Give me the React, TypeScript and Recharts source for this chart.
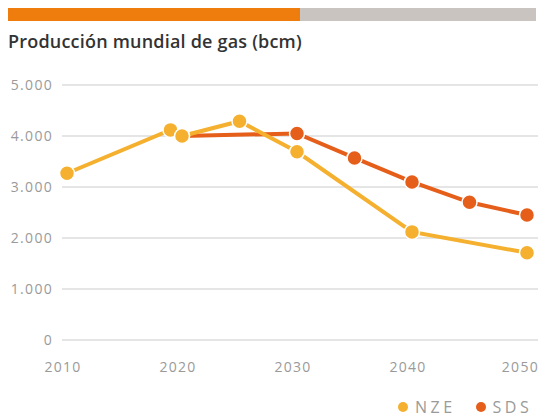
import React from "react";
import {
  LineChart,
  Line,
  XAxis,
  YAxis,
  CartesianGrid,
} from "recharts";

// Producción mundial de gas (bcm), escenarios AIE
const years = [2010, 2019, 2020, 2025, 2030, 2035, 2040, 2045, 2050];
const nze = [3270, 4120, 4000, 4290, 3690, null, 2120, null, 1710];
const sds = [null, null, 4000, null, 4050, 3570, 3100, 2700, 2450];
const xTicks = [2010, 2020, 2030, 2040, 2050];
const yTicks = [0, 1000, 2000, 3000, 4000, 5000];
const series = [
  { key: "NZE", values: nze, color: "#F4B02E" },
  { key: "SDS", values: sds, color: "#E55E1A" },
];

const data = years.map((year, i) => ({ year, NZE: nze[i], SDS: sds[i] }));

const FONT = "'Open Sans', 'Noto Sans', sans-serif";
const tickStyle = { fill: "#9a9a9a", fontSize: 14, fontFamily: FONT, letterSpacing: 1.3 };

const formatThousands = (v: number) =>
  v.toLocaleString("de-DE", { maximumFractionDigits: 0 });

const App: React.FC = () => {
  return (
    <div
      style={{
        position: "absolute",
        left: 0,
        top: 0,
        width: 541,
        height: 420,
        background: "#fff",
        fontFamily: FONT,
      }}
    >
      <style>{`body{margin:0}`}</style>
      <div
        style={{
          position: "absolute",
          left: 8,
          top: 8,
          width: 292,
          height: 13,
          background: "#EE7D0E",
        }}
      />
      <div
        style={{
          position: "absolute",
          left: 300,
          top: 8,
          width: 236,
          height: 13,
          background: "#C9C4BF",
        }}
      />
      <div
        style={{
          position: "absolute",
          left: 8,
          top: 29,
          fontSize: 18,
          fontWeight: 600,
          letterSpacing: 0.2,
          color: "#333",
          whiteSpace: "nowrap",
        }}
      >
        Producción mundial de gas (bcm)
      </div>
      <div style={{ position: "absolute", left: 0, top: 0 }}>
        <LineChart
          width={541}
          height={420}
          data={data}
          margin={{ top: 85, right: 3, bottom: 50, left: 0 }}
        >
          <CartesianGrid vertical={false} stroke="#DDDDDD" strokeWidth={1.5} />
          <XAxis
            dataKey="year"
            type="number"
            domain={[2010, 2050]}
            ticks={xTicks}
            padding={{ left: 5, right: 11 }}
            axisLine={false}
            tickLine={false}
            tickMargin={16}
            tick={{ ...tickStyle, dx: -4 }}
            height={30}
          />
          <YAxis
            domain={[0, 5000]}
            ticks={yTicks}
            width={62}
            axisLine={false}
            tickLine={false}
            tickMargin={3}
            tickFormatter={formatThousands}
            tick={tickStyle}
          />
          {series
            .slice()
            .reverse()
            .map((s) => (
              <Line
                key={s.key}
                dataKey={s.key}
                name={s.key}
                stroke={s.color}
                strokeWidth={4}
                connectNulls
                dot={{ r: 7.5, fill: s.color, stroke: "#fff", strokeWidth: 1.5 }}
                isAnimationActive={false}
              />
            ))}
        </LineChart>
      </div>
      <div
        style={{
          position: "absolute",
          left: 398,
          top: 395,
          height: 24,
          display: "flex",
          alignItems: "center",
          gap: 20,
        }}
      >
        {series.map((s) => (
          <div key={s.key} style={{ display: "flex", alignItems: "center" }}>
            <span
              style={{
                width: 10,
                height: 10,
                borderRadius: "50%",
                background: s.color,
                marginRight: 7,
              }}
            />
            <span style={{ color: "#9a9a9a", fontSize: 16, letterSpacing: 3.5 }}>
              {s.key}
            </span>
          </div>
        ))}
      </div>
    </div>
  );
};

export default App;
